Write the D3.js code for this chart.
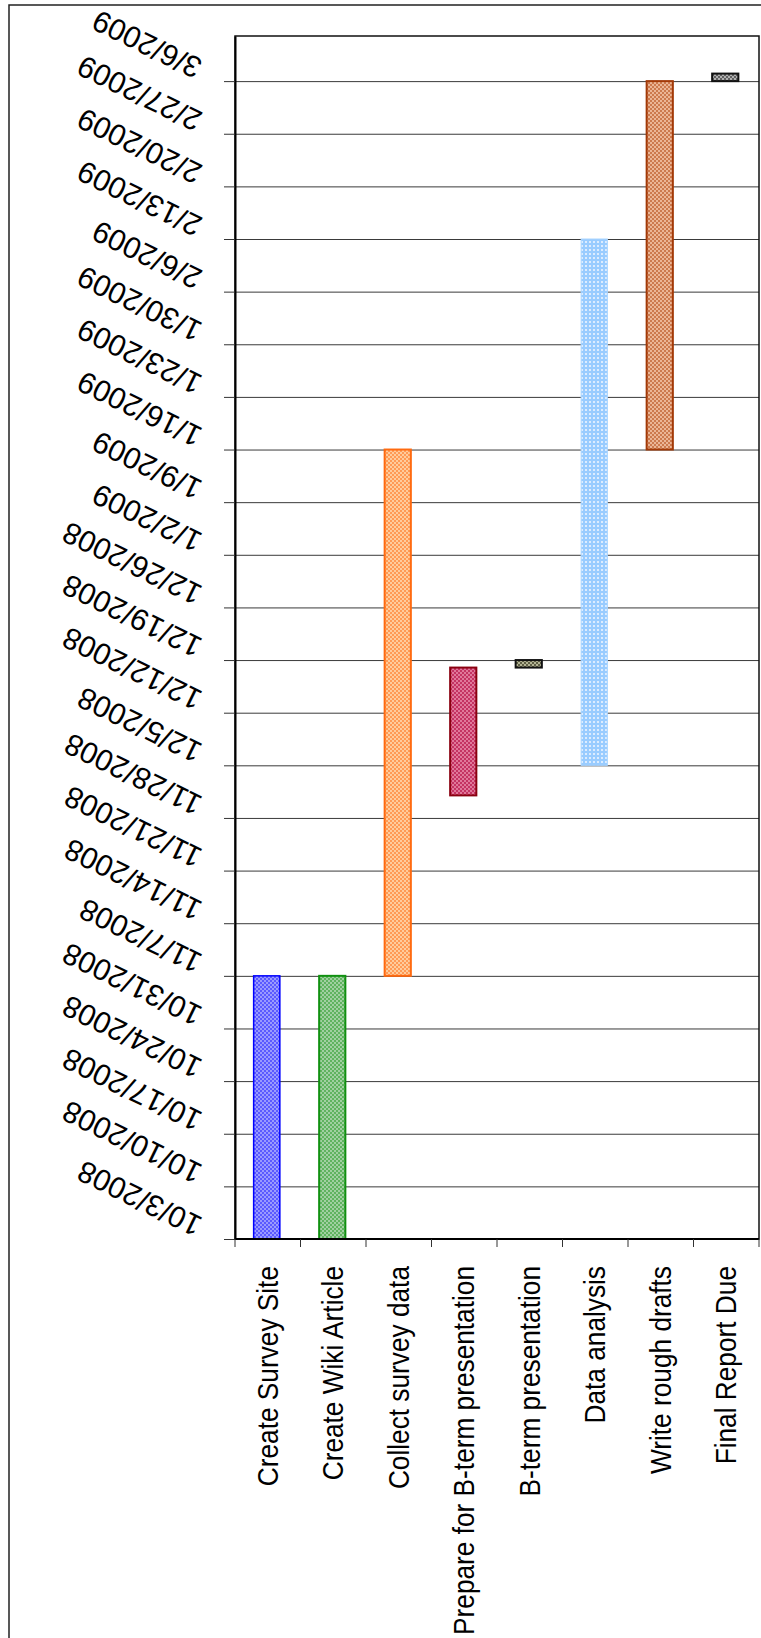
<!DOCTYPE html>
<html>
<head>
<meta charset="utf-8">
<script src="https://cdn.jsdelivr.net/npm/d3@7"></script>
<style>
  html, body { margin: 0; padding: 0; background: #fff; }
  svg { display: block; }
  text { font-family: "Liberation Sans", Arial, sans-serif; fill: #000; }
</style>
</head>
<body>
<svg id="chart" width="761" height="1638"></svg>
<script>
// Project schedule (Gantt bars): task names, start and finish dates
const tasks = [
  "Create Survey Site",
  "Create Wiki Article",
  "Collect survey data",
  "Prepare for B-term presentation",
  "B-term presentation",
  "Data analysis",
  "Write rough drafts",
  "Final Report Due"
];
const startDates = ["10/3/2008", "10/3/2008", "11/7/2008", "12/1/2008", "12/18/2008", "12/5/2008", "1/16/2009", "3/6/2009"];
const endDates   = ["11/7/2008", "11/7/2008", "1/16/2009", "12/18/2008", "12/19/2008", "2/13/2009", "3/6/2009", "3/7/2009"];

// Weekly date ticks on the time axis
const tickLabels = [
  "10/3/2008", "10/10/2008", "10/17/2008", "10/24/2008", "10/31/2008",
  "11/7/2008", "11/14/2008", "11/21/2008", "11/28/2008", "12/5/2008",
  "12/12/2008", "12/19/2008", "12/26/2008", "1/2/2009", "1/9/2009",
  "1/16/2009", "1/23/2009", "1/30/2009", "2/6/2009", "2/13/2009",
  "2/20/2009", "2/27/2009", "3/6/2009"
];
const axisMin = "10/3/2008";
const axisMax = "3/12/2009";

// Two-tone fill patterns per task, plus outline colour
const palette = [
  { a: "#5a5aff", b: "#9a9aff", stroke: "#0000ff", sw: 1.5 },
  { a: "#5fb35f", b: "#a0d0a0", stroke: "#109010", sw: 2 },
  { a: "#ff9a55", b: "#ffcc9c", stroke: "#ff6a10", sw: 2 },
  { a: "#c43362", b: "#e0789a", stroke: "#8a0010", sw: 2 },
  { a: "#5f5f45", b: "#b4b494", stroke: "#111111", sw: 2 },
  { a: "#99ccff", b: "#dcecff", stroke: "#a8d4ff", sw: 1, dots: true },
  { a: "#cc7a4e", b: "#ebb696", stroke: "#a33a08", sw: 2 },
  { a: "#606060", b: "#b0b0b0", stroke: "#111111", sw: 2 }
];

const parse = d3.utcParse("%m/%d/%Y");
const fmt = d3.utcFormat("%-m/%-d/%Y");

const svg = d3.select("#chart");
const plot = { left: 235, right: 759, top: 36, bottom: 1239 };

// Outer chart frame (runs off the right and bottom edges)
svg.append("rect")
  .attr("x", 9).attr("y", 5)
  .attr("width", 900).attr("height", 1800)
  .attr("fill", "none").attr("stroke", "#222").attr("stroke-width", 1.5);

// Pattern definitions
const defs = svg.append("defs");
palette.forEach((p, i) => {
  const pat = defs.append("pattern")
    .attr("id", "pat" + i)
    .attr("patternUnits", "userSpaceOnUse")
    .attr("width", 4).attr("height", 4);
  pat.append("rect").attr("width", 4).attr("height", 4).attr("fill", p.a);
  if (p.dots) {
    pat.append("rect").attr("x", 1).attr("y", 1).attr("width", 2).attr("height", 2).attr("fill", p.b);
  } else {
    pat.append("rect").attr("x", 0).attr("y", 0).attr("width", 2).attr("height", 2).attr("fill", p.b);
    pat.append("rect").attr("x", 2).attr("y", 2).attr("width", 2).attr("height", 2).attr("fill", p.b);
  }
});

// Scales
const x = d3.scaleBand().domain(tasks).range([plot.left, plot.right]).padding(0);
const y = d3.scaleUtc().domain([parse(axisMin), parse(axisMax)]).range([plot.bottom, plot.top]);
const tickDates = tickLabels.map(parse);

// Horizontal gridlines
svg.append("g")
  .attr("transform", `translate(${plot.left},0)`)
  .call(d3.axisLeft(y).tickValues(tickDates).tickSize(-(plot.right - plot.left)).tickFormat(""))
  .call(g => g.select(".domain").remove())
  .call(g => g.selectAll("line").attr("stroke", "#3a3a3a").attr("stroke-width", 1));

// Plot area border
svg.append("rect")
  .attr("x", plot.left).attr("y", plot.top)
  .attr("width", plot.right - plot.left).attr("height", plot.bottom - plot.top)
  .attr("fill", "none").attr("stroke", "#111").attr("stroke-width", 1.5);

// Bars
const bars = tasks.map((t, i) => ({ task: t, start: parse(startDates[i]), end: parse(endDates[i]), i }));
const barW = x.bandwidth() * 0.4;
svg.append("g").selectAll("rect")
  .data(bars)
  .join("rect")
  .attr("x", d => x(d.task) + (x.bandwidth() - barW) / 2 - 1)
  .attr("width", barW)
  .attr("y", d => y(d.end))
  .attr("height", d => y(d.start) - y(d.end))
  .attr("fill", d => `url(#pat${d.i})`)
  .attr("stroke", d => palette[d.i].stroke)
  .attr("stroke-width", d => palette[d.i].sw);

// Date axis (left) with slanted, upside-down labels
svg.append("g")
  .attr("transform", `translate(${plot.left},0)`)
  .call(d3.axisLeft(y).tickValues(tickDates).tickSize(11).tickSizeOuter(0).tickFormat(fmt))
  .call(g => g.select(".domain").attr("stroke", "#000").attr("stroke-width", 2))
  .call(g => g.selectAll("line").attr("stroke", "#333"))
  .call(g => g.selectAll("text")
    .attr("x", null).attr("dy", null)
    .attr("text-anchor", "start")
    .attr("font-size", 30)
    .attr("transform", "translate(-31,-21) rotate(206)"));

// Task axis (bottom)
const gx = svg.append("g");
gx.append("line")
  .attr("x1", plot.left).attr("x2", plot.right)
  .attr("y1", plot.bottom).attr("y2", plot.bottom)
  .attr("stroke", "#000").attr("stroke-width", 2);
const bounds = tasks.map(t => x(t)).concat([x.range()[1]]);
gx.selectAll("line.tick")
  .data(bounds)
  .join("line")
  .attr("class", "tick")
  .attr("x1", d => d).attr("x2", d => d)
  .attr("y1", plot.bottom).attr("y2", plot.bottom + 8)
  .attr("stroke", "#333").attr("stroke-width", 1);
gx.selectAll("text")
  .data(tasks)
  .join("text")
  .attr("transform", d => `translate(${x(d) + x.bandwidth() / 2},${plot.bottom + 27}) rotate(-90) scale(0.875,1)`)
  .attr("text-anchor", "end")
  .attr("dy", "0.33em")
  .attr("font-size", 30)
  .text(d => d);
</script>
</body>
</html>
